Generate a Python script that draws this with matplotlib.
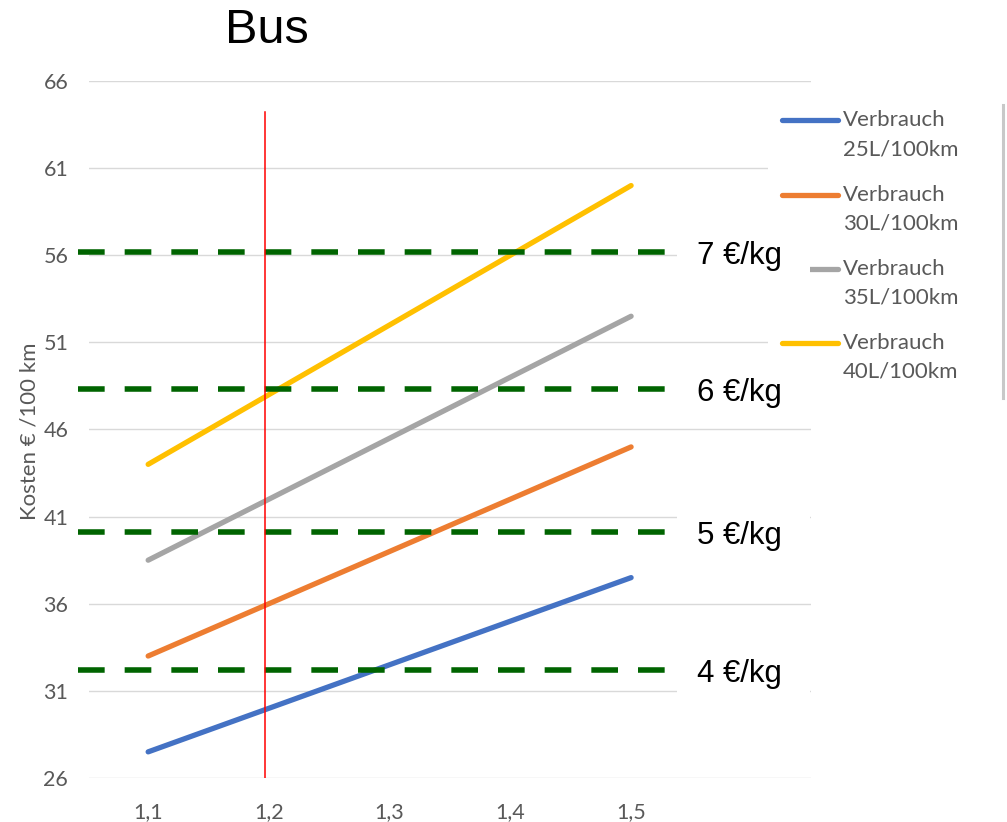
import numpy as np
from matplotlib import pyplot as plt
from matplotlib.patches import Rectangle
from matplotlib.lines import Line2D

# data
faktor = [1.1, 1.2, 1.3, 1.4, 1.5]
tick_labels = ['1,1', '1,2', '1,3', '1,4', '1,5']
kosten_25 = [27.5, 30.0, 32.5, 35.0, 37.5]
kosten_30 = [33.0, 36.0, 39.0, 42.0, 45.0]
kosten_35 = [38.5, 42.0, 45.5, 49.0, 52.5]
kosten_40 = [44.0, 48.0, 52.0, 56.0, 60.0]
serien = ['Verbrauch\n25L/100km', 'Verbrauch\n30L/100km',
          'Verbrauch\n35L/100km', 'Verbrauch\n40L/100km']
farben = ['#4472C4', '#ED7D31', '#A5A5A5', '#FFC000']
preis_labels = ['7 €/kg', '6 €/kg', '5 €/kg', '4 €/kg']
preis_kosten = [56.2, 48.3, 40.1, 32.2]
y_ticks = [26, 31, 36, 41, 46, 51, 56, 61, 66]
marker_x = 1.197
marker_top = 64.2

W, H = 1007, 822
grau = '#595959'
fig = plt.figure(figsize=(W / 100, H / 100), dpi=100)
ax = fig.add_axes([89 / W, 1 - 778 / H, 722 / W, 697 / H])

ax.set_xlim(1.051, 1.649)
ax.set_ylim(26, 66)
ax.set_yticks(y_ticks)
ax.set_xticks(faktor)
ax.set_xticklabels(tick_labels)
ax.grid(axis='y', color='#D9D9D9', lw=1.0)
ax.set_axisbelow(True)
for s in ax.spines.values():
    s.set_visible(False)
ax.tick_params(length=0, labelsize=15.5, labelcolor=grau)
ax.tick_params(axis='y', pad=15)
ax.tick_params(axis='x', pad=17)
for lab in ax.get_xticklabels() + ax.get_yticklabels():
    lab.set_family('Lato')

fig.text(30 / W, 1 - 431 / H, 'Kosten € /100 km', rotation=90, ha='center', va='center',
         fontsize=16, color=grau, family='Lato')

alle = [kosten_25, kosten_30, kosten_35, kosten_40]
for werte, c in zip(alle, farben):
    ax.plot(faktor, werte, color=c, lw=3.8, solid_capstyle='round', zorder=3)

# price levels
for y in preis_kosten:
    ax.plot([1.042, 1.538], [y, y], color='#006400', lw=4.0,
            dashes=(4.8, 3.6), clip_on=False, zorder=4)

ax.plot([marker_x, marker_x], [26, marker_top], color='#FF0000', lw=1.1, zorder=5)

# legend drawn by hand
ax.add_patch(Rectangle((768 / W, 1 - 398 / H), 236 / W, 298 / H, transform=fig.transFigure,
                       fc='white', ec='none', clip_on=False, zorder=6))
ax.add_line(Line2D([1003 / W, 1003 / W], [1 - 105 / H, 1 - 398 / H], transform=fig.transFigure,
                   color='#C8C8C8', lw=2.2, clip_on=False, zorder=6))
for i, (name, c) in enumerate(zip(serien, farben)):
    yy = 1 - (120.5 + i * 74.3) / H
    ax.add_line(Line2D([782 / W, 838 / W], [yy, yy], transform=fig.transFigure, color=c,
                       lw=3.8, solid_capstyle='round', clip_on=False, zorder=7))
    erste, zweite = name.split('\n')
    fig_y2 = yy - 28.5 / H
    ax.text(843 / W, yy, erste, transform=fig.transFigure, va='center', ha='left',
            fontsize=16, color=grau, family='Lato', zorder=7)
    ax.text(843 / W, fig_y2, zweite, transform=fig.transFigure, va='center', ha='left',
            fontsize=16, color=grau, family='Lato', zorder=7)

# price labels with white boxes
for lab, y in zip(preis_labels, preis_kosten):
    ax.add_patch(Rectangle((1.538, y - 1.6), 0.110, 3.2, fc='white', ec='none',
                           clip_on=False, zorder=8))
    ax.annotate(lab, xy=(1.5545, y), xytext=(0, -12), textcoords='offset pixels',
                va='baseline', ha='left', fontsize=22.5, family='Liberation Sans',
                color='black', zorder=9, annotation_clip=False)

fig.text(267 / W, 1 - 43 / H, 'Bus', ha='center', va='baseline', fontsize=35,
         family='Liberation Sans')

fig.savefig('out.png', dpi=100)
